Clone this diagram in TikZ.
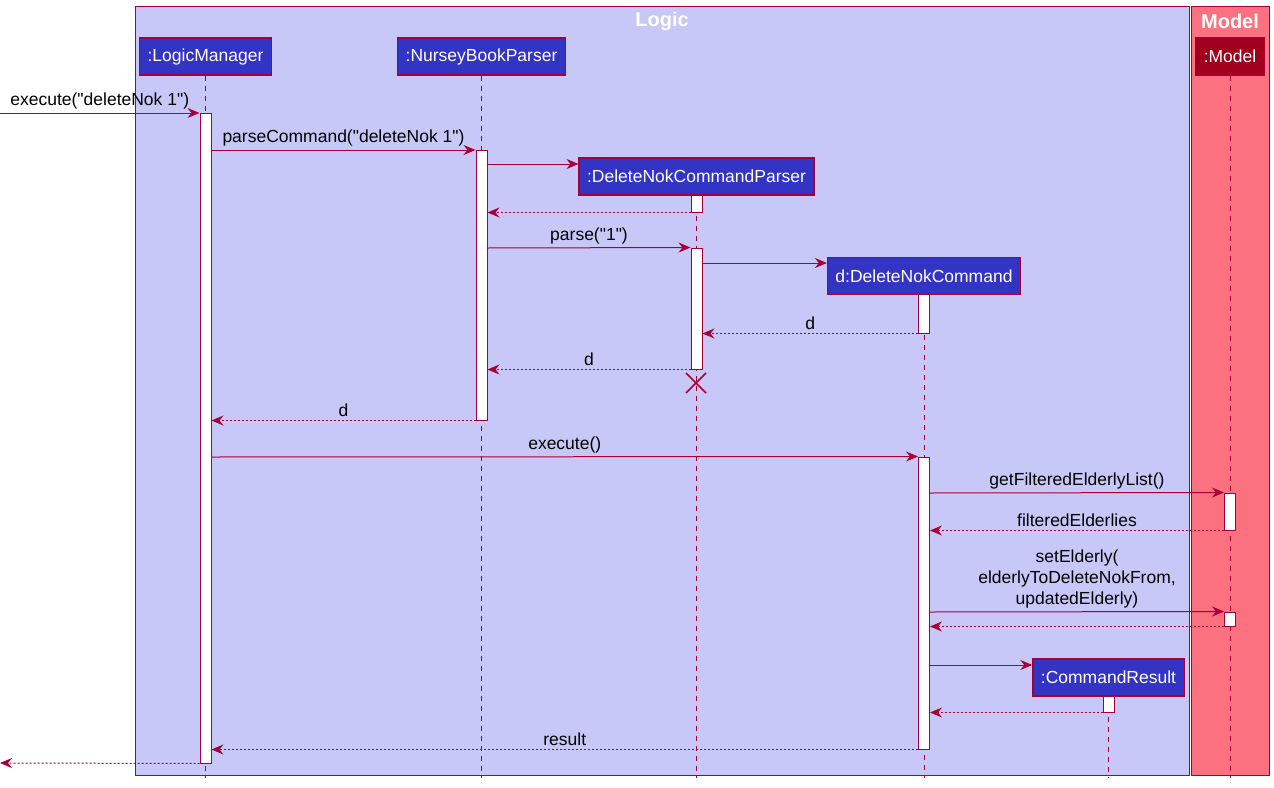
\documentclass[tikz,border=0pt]{standalone}
\usepackage{fontspec}
\setmainfont{Liberation Sans}
\usepackage{tikz}
\usetikzlibrary{arrows.meta}
\definecolor{umlred}{HTML}{A80036}
\definecolor{partblue}{HTML}{3333C4}
\definecolor{logicbg}{HTML}{C8C8F8}
\definecolor{modelbg}{HTML}{FB7180}
\definecolor{modelpart}{HTML}{A0001C}
\newcommand{\qq}{\textquotedbl}

\begin{document}
\begin{tikzpicture}[x=1pt,y=-1pt,>={Stealth[length=12pt,width=10pt,inset=4pt]},
  font=\fontsize{17.5}{21}\selectfont,
  participant/.style={rectangle,draw=umlred,line width=1.2pt,fill=partblue,text=white,minimum height=37pt,inner xsep=8pt,inner ysep=0pt},
  act/.style={rectangle,draw=umlred,line width=1pt,fill=white,minimum width=11pt,inner sep=0pt},
  lifeline/.style={umlred,line width=1pt,dash pattern=on 5pt off 5pt},
  msg/.style={->,umlred,line width=1pt},
  ret/.style={->,umlred,line width=1pt,dash pattern=on 2pt off 2pt},
  lbl/.style={above,inner sep=3pt,text=black,align=center},
  boxtitle/.style={text=white,font=\bfseries\fontsize{20}{24}\selectfont}]

  \useasboundingbox (0,0) rectangle (1274,787);

  \draw[umlred,line width=1pt,fill=logicbg] (135,6) rectangle (1189,775);
  \draw[umlred,line width=1pt,fill=modelbg] (1191,6) rectangle (1269,775);
  \node[boxtitle] (logicT) at (662,21) {Logic};
  \node[boxtitle] (modelT) at (1230,21) {Model};

  \node[participant] (lm) at (205.5,56.5) {:LogicManager};
  \node[participant] (nbp) at (481.5,56.5) {:NurseyBookParser};
  \node[participant] (dp) at (696.5,176.5) {:DeleteNokCommandParser};
  \node[participant] (dc) at (924,276) {d:DeleteNokCommand};
  \node[participant] (cr) at (1108.5,677.5) {:CommandResult};
  \node[participant,fill=modelpart] (m) at (1230,56.5) {:Model};

  \foreach \p in {lm,nbp,dp,dc,cr,m}
    \draw[lifeline] (\p.south) -- (\p.south |- 0,778);
  \draw[umlred,line width=1.5pt] (686,373) -- (706,393) (686,393) -- (706,373);

  \node[act,minimum height=650pt] (lmA) at (205.5,438) {};
  \node[act,minimum height=270pt] (nbpA) at (481.5,285) {};
  \node[act,minimum height=17pt] (dpA1) at (696.5,203.5) {};
  \node[act,minimum height=121pt] (dpA2) at (696.5,308.5) {};
  \node[act,minimum height=39pt] (dcA1) at (924,313.5) {};
  \node[act,minimum height=292pt] (dcA2) at (924,603) {};
  \node[act,minimum height=37pt] (mA1) at (1230,511.5) {};
  \node[act,minimum height=14pt] (mA2) at (1230,619) {};
  \node[act,minimum height=16pt] (crA) at (1108.5,704) {};

  \coordinate (in) at (0,113);
  \coordinate (out) at (0,763);

  \draw[msg] (in) -- node[lbl] {execute(\qq deleteNok 1\qq)} (lmA.west |- in);
  \draw[msg] (lmA.east |- 0,150) -- node[lbl] {parseCommand(\qq deleteNok 1\qq)} (nbpA.west |- 0,150);
  \draw[msg] (nbpA.east |- 0,164) -- (dp.west |- 0,164);
  \draw[ret] (dpA1.south west) -- (nbpA.east |- dpA1.south);
  \draw[msg] (nbpA.east |- 0,248) -- node[lbl] {parse(\qq 1\qq)} (dpA2.north west);
  \draw[msg] (dpA2.east |- 0,263) -- (dc.west |- 0,263);
  \draw[ret] (dcA1.south west) -- node[lbl] {d} (dpA2.east |- dcA1.south);
  \draw[ret] (dpA2.south west) -- node[lbl] {d} (nbpA.east |- dpA2.south);
  \draw[ret] (nbpA.south west) -- node[lbl] {d} (lmA.east |- nbpA.south);
  \draw[msg] (lmA.east |- 0,457) -- node[lbl] {execute()} (dcA2.north west);
  \draw[msg] (dcA2.east |- 0,493) -- node[lbl] {getFilteredElderlyList()} (mA1.north west);
  \draw[ret] (mA1.south west) -- node[lbl] {filteredElderlies} (dcA2.east |- mA1.south);
  \draw[msg] (dcA2.east |- 0,612) -- node[lbl] {setElderly(\\elderlyToDeleteNokFrom,\\updatedElderly)} (mA2.north west);
  \draw[ret] (mA2.south west) -- (dcA2.east |- mA2.south);
  \draw[msg] (dcA2.east |- 0,665) -- (cr.west |- 0,665);
  \draw[ret] (crA.south west) -- (dcA2.east |- crA.south);
  \draw[ret] (dcA2.south west) -- node[lbl] {result} (lmA.east |- dcA2.south);
  \draw[ret] (lmA.south west) -- (out);
\end{tikzpicture}
\end{document}
